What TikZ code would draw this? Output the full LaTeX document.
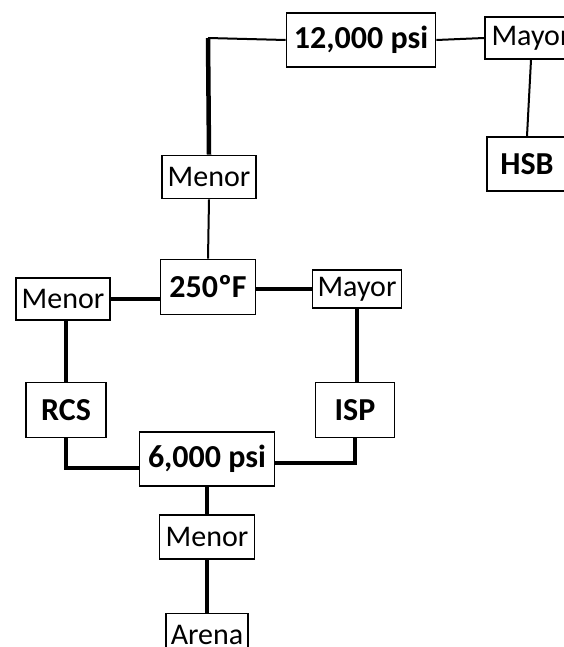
\documentclass[tikz,border=0pt]{standalone}
\usepackage{fontspec}
\setmainfont{Carlito}
\begin{document}
\begin{tikzpicture}[x=1pt,y=-1pt,
    caja/.style={draw,line width=1.8pt,fill=white,inner sep=0pt,
      font=\fontsize{30}{36}\selectfont,minimum height=43pt},
    cajab/.style={caja,font=\fontsize{32}{38}\selectfont\bfseries,minimum height=54pt},
    grueso/.style={line width=4.5pt},
    fino/.style={line width=2pt}]
    \useasboundingbox (0,0) rectangle (563,647);
    % fila superior
    \node[cajab,minimum width=149pt] (p12) at (361,40) {12,000 psi};
    \node[caja,minimum width=92pt,minimum height=42pt] (mayA) at (531,38) {Mayor};
    \node[cajab,minimum width=80pt] (hsb) at (527,164) {HSB};
    \node[caja,minimum width=94pt] (menA) at (209,177) {Menor};
    % centro
    \node[cajab,minimum width=95pt,minimum height=55pt] (t250) at (208,287) {250ºF};
    \node[caja,minimum width=94pt,minimum height=42pt] (menB) at (63,299) {Menor};
    \node[caja,minimum width=89pt,minimum height=38pt] (mayB) at (357,289) {Mayor};
    \node[cajab,minimum width=80pt,minimum height=55pt] (rcs) at (66,410) {RCS};
    \node[cajab,minimum width=79pt,minimum height=55pt] (isp) at (355,410) {ISP};
    \node[cajab,minimum width=135pt] (p6) at (207,459) {6,000 psi};
    % abajo
    \node[caja,minimum width=95pt,minimum height=44pt] (menC) at (207,537) {Menor};
    \node[caja,minimum width=82pt] (arena) at (207,635) {Arena};
    \coordinate (c1) at (208,38);
    \draw[fino] (p12.west) -- (c1);
    \draw[grueso] (c1) -- (menA.north);
    \draw[fino] (p12.east) -- (mayA.west);
    \draw[fino] (mayA.south) -- (hsb.north);
    \draw[fino] (menA.south) -- (t250.north);
    \draw[grueso] (menB.east) -- (menB.east -| t250.west);
    \draw[grueso] (mayB.west -| t250.east) -- (mayB.west);
    \draw[grueso] (menB.south -| rcs.north) -- (rcs.north);
    \draw[grueso] (mayB.south) -- (mayB.south |- isp.north);
    \draw[grueso] (rcs.south) |- ([yshift=-9pt]p6.west);
    \draw[grueso] (isp.south) |- ([yshift=-4pt]p6.east);
    \draw[grueso] (p6.south) -- (menC.north);
    \draw[grueso] (menC.south) -- (arena.north);
\end{tikzpicture}
\end{document}
